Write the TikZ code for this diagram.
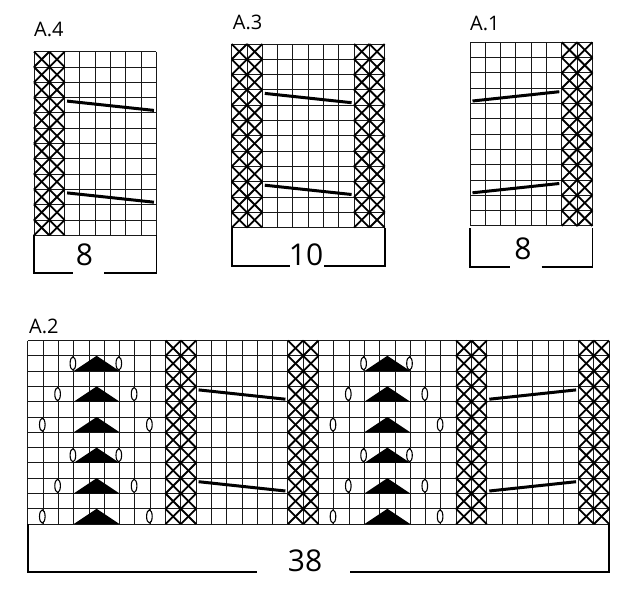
\documentclass[tikz,border=0pt]{standalone}
\usepackage{fontspec}
\setmainfont{Open Sans}
\def\kcs{15.3}
% grid: L T ncols nrows
\newcommand{\kgrid}[4]{%
  \foreach \i in {0,...,#3} \draw[gridline] ({#1+\i*\kcs},#2) -- ({#1+\i*\kcs},{#2+#4*\kcs});
  \foreach \j in {0,...,#4} \draw[gridline] (#1,{#2+\j*\kcs}) -- ({#1+#3*\kcs},{#2+\j*\kcs});
}
% column of crosses: L T col nrows
\newcommand{\kxcol}[4]{%
  \foreach \j in {1,...,#4} {
    \draw[xmark] ({#1+(#3-1)*\kcs},{#2+(\j-1)*\kcs}) -- ({#1+#3*\kcs},{#2+\j*\kcs});
    \draw[xmark] ({#1+(#3-1)*\kcs},{#2+\j*\kcs}) -- ({#1+#3*\kcs},{#2+(\j-1)*\kcs});
  }
}
% slanted line going down to the right: L T c1 c2 row
\newcommand{\kdown}[5]{%
  \draw[slant] ({#1+(#3-1)*\kcs+2.5},{#2+(#5-1)*\kcs+3.5}) -- ({#1+#4*\kcs-2.5},{#2+#5*\kcs-2.5});
}
% slanted line going up to the right: L T c1 c2 row
\newcommand{\kup}[5]{%
  \draw[slant] ({#1+(#3-1)*\kcs+2.5},{#2+#5*\kcs-2.5}) -- ({#1+#4*\kcs-2.5},{#2+(#5-1)*\kcs+3.5});
}
% lace section of 9 columns: L T
\newcommand{\klace}[2]{%
  \foreach \r in {2,4,...,12}
    \fill[dec] ({#1+3*\kcs},{#2+\r*\kcs}) -- ({#1+4.5*\kcs},{#2+(\r-1)*\kcs}) -- ({#1+6*\kcs},{#2+\r*\kcs}) -- cycle;
  \foreach \r/\a/\b in {2/3/6,4/2/7,6/1/8,8/3/6,10/2/7,12/1/8} {
    \draw[yo] ({#1+\a*\kcs-0.8},{#2+(\r-0.5)*\kcs}) ellipse [x radius=2.8pt, y radius=6.6pt];
    \draw[yo] ({#1+\b*\kcs-0.8},{#2+(\r-0.5)*\kcs}) ellipse [x radius=2.8pt, y radius=6.6pt];
  }
}
\begin{document}
\begin{tikzpicture}[x=1pt,y=-1pt,
  gridline/.style={line width=1pt, black!90},
  xmark/.style={line width=1.8pt, black},
  slant/.style={line width=3pt, black},
  bracket/.style={line width=1.8pt, black},
  yo/.style={draw=black, fill=white, line width=1.1pt},
  dec/.style={fill=black},
  title/.style={font=\fontsize{20}{20}\selectfont, anchor=base west, inner sep=0pt},
  count/.style={font=\fontsize{30}{30}\selectfont, anchor=base, inner sep=0pt}]
\useasboundingbox[fill=white] (0,0) rectangle (625,600);

% ---------- A.4 ----------
\def\L{34}\def\T{51.7}
\kgrid{\L}{\T}{8}{12}
\kxcol{\L}{\T}{1}{12}\kxcol{\L}{\T}{2}{12}
\kdown{\L}{\T}{3}{8}{4}\kdown{\L}{\T}{3}{8}{10}
\node[title] (tA4) at (34,36) {A.4};
\coordinate (a4tl) at (34,235.3);
\coordinate (a4tr) at (156.4,235.3);
\coordinate (a4bl) at (34,273.3);
\coordinate (a4br) at (156.4,273.3);
\coordinate (a4gl) at (73.3,273.3);
\coordinate (a4gr) at (104,273.3);
\draw[bracket] (a4tl) -- (a4bl) -- (a4gl);
\draw[bracket] (a4gr) -- (a4br) -- (a4tr);
\node[count] (nA4) at (84.5,265.5) {8};

% ---------- A.3 ----------
\def\L{231.7}\def\T{44}
\kgrid{\L}{\T}{10}{12}
\kxcol{\L}{\T}{1}{12}\kxcol{\L}{\T}{2}{12}
\kxcol{\L}{\T}{9}{12}\kxcol{\L}{\T}{10}{12}
\kdown{\L}{\T}{3}{8}{4}\kdown{\L}{\T}{3}{8}{10}
\node[title] (tA3) at (232.7,29.5) {A.3};
\coordinate (a3tl) at (231.7,227.6);
\coordinate (a3tr) at (384.7,227.6);
\coordinate (a3bl) at (231.7,266);
\coordinate (a3br) at (384.7,266);
\coordinate (a3gl) at (290,266);
\coordinate (a3gr) at (324,266);
\draw[bracket] (a3tl) -- (a3bl) -- (a3gl);
\draw[bracket] (a3gr) -- (a3br) -- (a3tr);
\node[count] (nA3) at (306,265) {10};

% ---------- A.1 ----------
\def\L{470}\def\T{42.3}
\kgrid{\L}{\T}{8}{12}
\kxcol{\L}{\T}{7}{12}\kxcol{\L}{\T}{8}{12}
\kup{\L}{\T}{1}{6}{4}\kup{\L}{\T}{1}{6}{10}
\node[title] (tA1) at (470,30) {A.1};
\coordinate (a1tl) at (470,228.3);
\coordinate (a1tr) at (592.4,228.3);
\coordinate (a1bl) at (470,266.7);
\coordinate (a1br) at (592.4,266.7);
\coordinate (a1gl) at (510,266.7);
\coordinate (a1gr) at (541.7,266.7);
\draw[bracket] (a1tl) -- (a1bl) -- (a1gl);
\draw[bracket] (a1gr) -- (a1br) -- (a1tr);
\node[count] (nA1) at (523,259.3) {8};

% ---------- A.2 ----------
\def\L{27.8}\def\T{340.5}
\kgrid{\L}{\T}{38}{12}
\foreach \c in {10,11,18,19,29,30,37,38} {\kxcol{\L}{\T}{\c}{12}}
\kdown{\L}{\T}{12}{17}{4}\kdown{\L}{\T}{12}{17}{10}
\kup{\L}{\T}{31}{36}{4}\kup{\L}{\T}{31}{36}{10}
\klace{\L}{\T}
\klace{\L+19*\kcs}{\T}
\node[title] (tA2) at (29,333) {A.2};
\coordinate (a2tl) at (27.8,524.1);
\coordinate (a2tr) at (609.2,524.1);
\coordinate (a2bl) at (27.8,571.7);
\coordinate (a2br) at (609.2,571.7);
\coordinate (a2gl) at (256.7,571.7);
\coordinate (a2gr) at (350,571.7);
\draw[bracket] (a2tl) -- (a2bl) -- (a2gl);
\draw[bracket] (a2gr) -- (a2br) -- (a2tr);
\node[count] (nA2) at (305,571) {38};
\end{tikzpicture}
\end{document}
